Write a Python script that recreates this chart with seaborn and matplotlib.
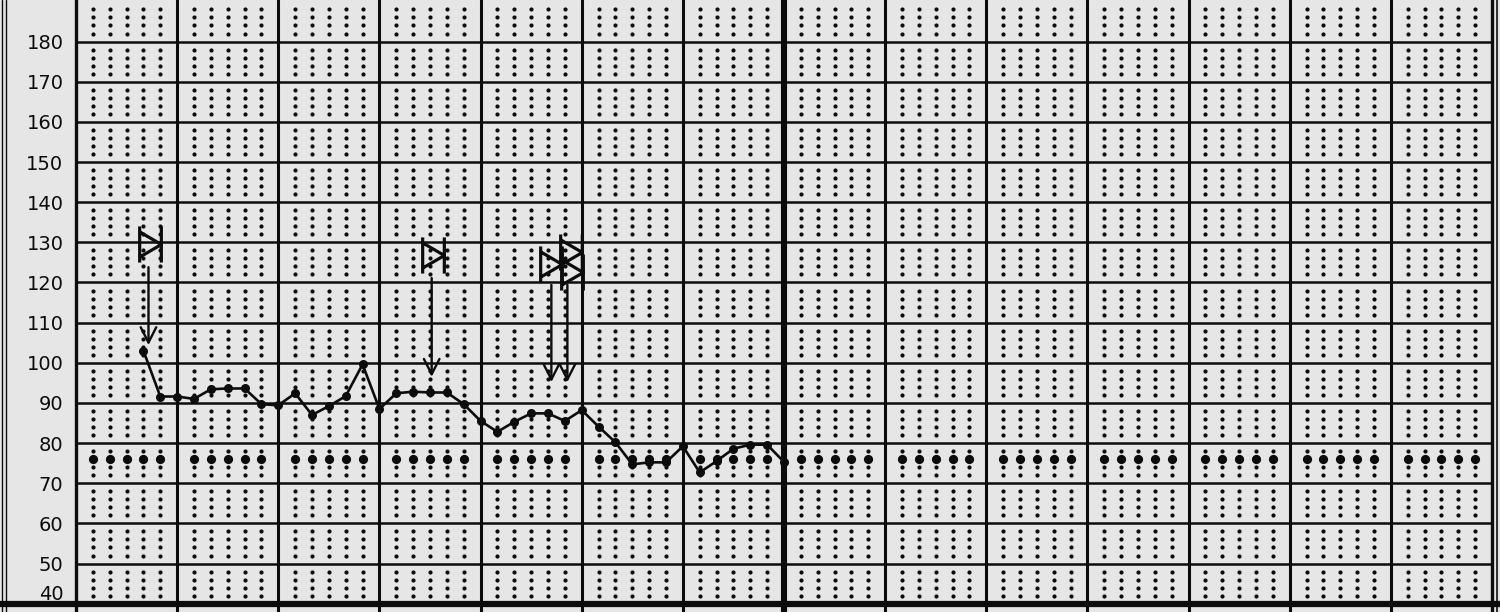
import matplotlib
matplotlib.use("Agg")
import numpy as np
import pandas as pd
import matplotlib.pyplot as plt
from matplotlib.path import Path
from matplotlib.lines import Line2D
import seaborn as sns

# 4-hourly pulse readings: reading number (6 per day) and beats per minute
reading = list(range(4, 43))
pulse = [103, 91.6, 91.6, 91, 93.4, 93.6, 93.6, 89.7, 89.4, 92.4,
         87, 89.2, 91.7, 99.6, 88.5, 92.4, 92.8, 92.6, 92.6, 89.7,
         85.5, 82.8, 85.3, 87.4, 87.4, 85.5, 88.2, 84.1, 80.2, 74.7,
         75.2, 75.2, 79.2, 72.7, 75.5, 78.6, 79.6, 79.6, 75.3]

# dose symbols drawn above the curve
dose_x = [4.4, 21.15, 28.15, 29.35, 29.45]
dose_y = [129.6, 126.8, 124.5, 127.6, 122.6]

# arrows from the doses down to the curve
arrow_x = [4.3, 21.1, 28.2, 29.15]
arrow_top = [123.8, 121.1, 119.4, 119.4]
arrow_tip = [104.4, 96.5, 95.2, 95.2]

y_ticks = list(range(40, 190, 10))
n_days = 14
per_day = 6

PAPER = "#e6e6e6"
INK = "#0c0c0c"

sns.set_theme(style="white")
plt.rcParams["font.family"] = ["DejaVu Sans"]

fig = plt.figure(figsize=(15, 6.12), dpi=100, facecolor=PAPER)
ax = fig.add_axes([76 / 1500, 0, 1416 / 1500, 1])
ax.set_facecolor(PAPER)
ax.set_xlim(0, n_days * per_day)
ax.set_ylim(37.93, 190.35)

# chart paper: dotted rows inside every 10-beat band
cols = [c for c in range(n_days * per_day + 1) if c % per_day != 0]
small_x, small_y, big_x, big_y = [], [], [], []
for band in range(40, 190, 10):
    for off in (2, 4, 6, 8):
        v = band + off
        for c in cols:
            if v == 76:
                big_x.append(c); big_y.append(v)
            else:
                small_x.append(c); small_y.append(v)
ax.scatter(small_x, small_y, s=9, color=INK, linewidths=0, zorder=1)
ax.scatter(big_x, big_y, s=44, color=INK, linewidths=0, zorder=1)

# ruled lines
for v in y_ticks[1:]:
    ax.axhline(v, color=INK, lw=1.8, zorder=2)
for d in range(1, n_days):
    ax.axvline(d * per_day, color=INK, lw=4.4 if d == 7 else 2.2, zorder=2)
ax.axvline(n_days * per_day, color=INK, lw=2.4, zorder=2, clip_on=False)
ax.axhline(40, xmin=-0.06, xmax=1.01, color=INK, lw=4.5, zorder=3, clip_on=False)

# pulse curve
df = pd.DataFrame({"reading": reading, "pulse": pulse})
sns.lineplot(data=df, x="reading", y="pulse", ax=ax, color=INK, lw=1.9,
             marker="o", markersize=6.5, markeredgewidth=0, zorder=5)

# dose symbol |>|
verts = [(-0.6, -1), (-0.6, 1), (-0.6, 0.7), (0.6, 0), (-0.6, -0.7),
         (0.6, -1), (0.6, 1)]
codes = [Path.MOVETO, Path.LINETO, Path.MOVETO, Path.LINETO, Path.LINETO,
         Path.MOVETO, Path.LINETO]
dose_marker = Path(verts, codes)
ax.plot(dose_x, dose_y, ls="none", marker=dose_marker, markersize=26,
        markeredgewidth=2.3, markeredgecolor=INK, fillstyle="none", zorder=6)

for x, top, tip in zip(arrow_x, arrow_top, arrow_tip):
    ax.annotate("", xy=(x, tip), xytext=(x, top),
                arrowprops=dict(arrowstyle="->,head_length=0.55,head_width=0.28",
                                color=INK, lw=1.7, mutation_scale=20,
                                shrinkA=0, shrinkB=0), zorder=6)

# axis labels
ax.set_yticks(y_ticks)
ax.set_yticklabels([str(v) for v in y_ticks], fontsize=14, color=INK)
ax.tick_params(axis="y", length=0, pad=9)
ax.tick_params(axis="x", length=0, labelbottom=False)
ax.yaxis.get_major_ticks()[0].label1.set_verticalalignment("bottom")
ax.set_xlabel("")
ax.set_ylabel("")
for side in ("top", "right", "bottom"):
    ax.spines[side].set_visible(False)
ax.spines["left"].set_color(INK)
ax.spines["left"].set_linewidth(2.4)

# outer borders of the sheet
for xp, lw in ((2, 1.0), (6, 1.0), (1497, 1.2)):
    fig.add_artist(Line2D([xp / 1500, xp / 1500], [0, 1], color=INK, lw=lw))

fig.savefig("out.png", dpi=100, facecolor=PAPER)
